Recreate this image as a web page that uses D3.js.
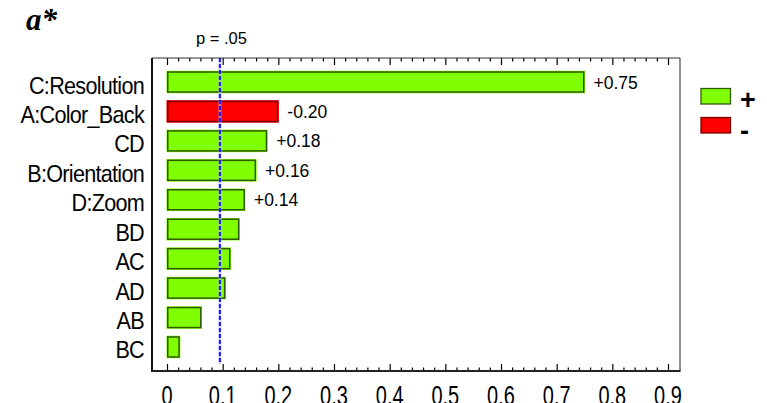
<!DOCTYPE html>
<html>
<head>
<meta charset="utf-8">
<script src="https://cdn.jsdelivr.net/npm/d3@7"></script>
<style>
  html, body { margin: 0; padding: 0; background: #fff; }
  svg { display: block; }
  text { font-family: Arial, "Liberation Sans", sans-serif; fill: #000; }
</style>
</head>
<body>
<svg id="chart" width="767" height="403"></svg>
<script>
// Standardized effects (absolute), largest first
const terms   = ["C:Resolution", "A:Color_Back", "CD", "B:Orientation", "D:Zoom", "BD", "AC", "AD", "AB", "BC"];
const effects = [0.75, 0.20, 0.18, 0.16, 0.14, 0.13, 0.114, 0.105, 0.062, 0.023];
const signs   = ["+", "-", "+", "+", "+", "+", "+", "+", "+", "+"];
const valueLabels = ["+0.75", "-0.20", "+0.18", "+0.16", "+0.14", "", "", "", "", ""];
const pThreshold = 0.095;
const pLabel = "p = .05";
const majorTicks = [0, 0.1, 0.2, 0.3, 0.4, 0.5, 0.6, 0.7, 0.8, 0.9];
const tickLabels = ["0", "0.1", "0.2", "0.3", "0.4", "0.5", "0.6", "0.7", "0.8", "0.9"];
const legendKeys = ["+", "-"];

const colors = { "+": { fill: "#80ff00", stroke: "#2f5a00" }, "-": { fill: "#ff0000", stroke: "#7a0000" } };

const svg = d3.select("#chart");
const frame = { left: 152, right: 680, top: 58, bottom: 371 };

const x = d3.scaleLinear().domain([0, 0.9]).range([167, 668]);
const y = d3.scaleBand().domain(terms).range([67.3, 361.7]).paddingInner(0.27).paddingOuter(0.135);

const rows = terms.map((t, i) => ({ term: t, value: effects[i], sign: signs[i], label: valueLabels[i] }));

// Title
svg.append("text")
  .attr("x", 26).attr("y", 29.5)
  .style("font-family", "'Liberation Serif', 'Times New Roman', serif")
  .style("font-weight", "bold").style("font-style", "italic")
  .style("font-size", "31px")
  .text("a*");

// Bars
const bars = svg.append("g");
bars.selectAll("rect.fill").data(rows).join("rect")
  .attr("class", "fill")
  .attr("x", x(0) - 0.5)
  .attr("y", d => y(d.term) - 0.5)
  .attr("width", d => x(d.value) - x(0) + 1)
  .attr("height", y.bandwidth() + 1)
  .attr("fill", d => colors[d.sign].fill);
bars.selectAll("rect.edge").data(rows).join("rect")
  .attr("class", "edge")
  .attr("x", x(0) + 0.75)
  .attr("y", d => y(d.term) + 0.75)
  .attr("width", d => x(d.value) - x(0) - 1.5)
  .attr("height", y.bandwidth() - 1.5)
  .attr("fill", "none")
  .attr("stroke", d => colors[d.sign].stroke)
  .attr("stroke-width", 1.5);

// Value labels
svg.append("g").selectAll("text").data(rows.filter(d => d.label)).join("text")
  .attr("x", d => x(d.value) + 9)
  .attr("y", d => y(d.term) + y.bandwidth() / 2 + 6.5)
  .style("font-size", "17.5px")
  .text(d => d.label);

// Term labels (condensed)
svg.append("g").selectAll("text").data(rows).join("text")
  .attr("transform", d => `translate(144,${y(d.term) + y.bandwidth() / 2 + 11.5}) scale(0.9,1)`)
  .attr("text-anchor", "end")
  .style("font-size", "24px")
  .style("letter-spacing", "-0.8px")
  .text(d => d.term);

// Significance threshold line
const px = x(pThreshold);
svg.append("line")
  .attr("x1", px).attr("x2", px).attr("y1", frame.top).attr("y2", 364)
  .attr("stroke", "#b8b8ff").attr("stroke-width", 3).attr("opacity", 0.6);
svg.append("line")
  .attr("x1", px).attr("x2", px).attr("y1", frame.top).attr("y2", 364)
  .attr("stroke", "#1515ff").attr("stroke-width", 2).attr("stroke-dasharray", "4,2");
svg.append("text")
  .attr("x", px + 1.5).attr("y", 44)
  .attr("text-anchor", "middle")
  .style("font-size", "16.5px")
  .text(pLabel);

// Inward ticks on bottom and top
const minorTicks = d3.range(0, 0.9001, 0.02).filter(v => Math.abs(v * 10 - Math.round(v * 10)) > 1e-6);
function ticks(axisFn, yPos, values, size) {
  const g = svg.append("g").attr("transform", `translate(0,${yPos})`)
    .call(axisFn(x).tickValues(values).tickSize(size).tickFormat(""));
  g.select(".domain").remove();
  g.selectAll("line").attr("stroke", "#000").attr("stroke-width", 1.2);
}
ticks(d3.axisBottom, frame.bottom, majorTicks, -7);
ticks(d3.axisBottom, frame.bottom, minorTicks, -3.5);
ticks(d3.axisTop, frame.top, majorTicks, -7);
ticks(d3.axisTop, frame.top, minorTicks, -3.5);

// Frame
svg.append("line").attr("x1", frame.left).attr("x2", frame.right).attr("y1", frame.top).attr("y2", frame.top)
  .attr("stroke", "#333").attr("stroke-width", 1);
svg.append("line").attr("x1", frame.right).attr("x2", frame.right).attr("y1", frame.top).attr("y2", frame.bottom)
  .attr("stroke", "#222").attr("stroke-width", 1);
svg.append("line").attr("x1", frame.left).attr("x2", frame.left).attr("y1", frame.top).attr("y2", frame.bottom + 1)
  .attr("stroke", "#111").attr("stroke-width", 2);
svg.append("line").attr("x1", frame.left - 1).attr("x2", frame.right + 0.5).attr("y1", frame.bottom).attr("y2", frame.bottom)
  .attr("stroke", "#222").attr("stroke-width", 2);

// Axis tick labels (condensed, running off the bottom edge)
svg.append("g").selectAll("text").data(majorTicks).join("text")
  .attr("transform", (d) => `translate(${x(d)},405) scale(0.74,1)`)
  .attr("text-anchor", "middle")
  .style("font-size", "27px")
  .text((d, i) => tickLabels[i]);

// Legend
const legend = svg.append("g");
legendKeys.forEach((k, i) => {
  const ly = 88.5 + i * 29;
  legend.append("rect")
    .attr("x", 701).attr("y", ly).attr("width", 29.5).attr("height", 15.5)
    .attr("fill", colors[k].fill).attr("stroke", colors[k].stroke).attr("stroke-width", 1.3);
  legend.append("text")
    .attr("x", 740).attr("y", ly + (k === "+" ? 20 : 22))
    .style("font-size", "27px").style("font-weight", "bold")
    .text(k);
});
</script>
</body>
</html>
